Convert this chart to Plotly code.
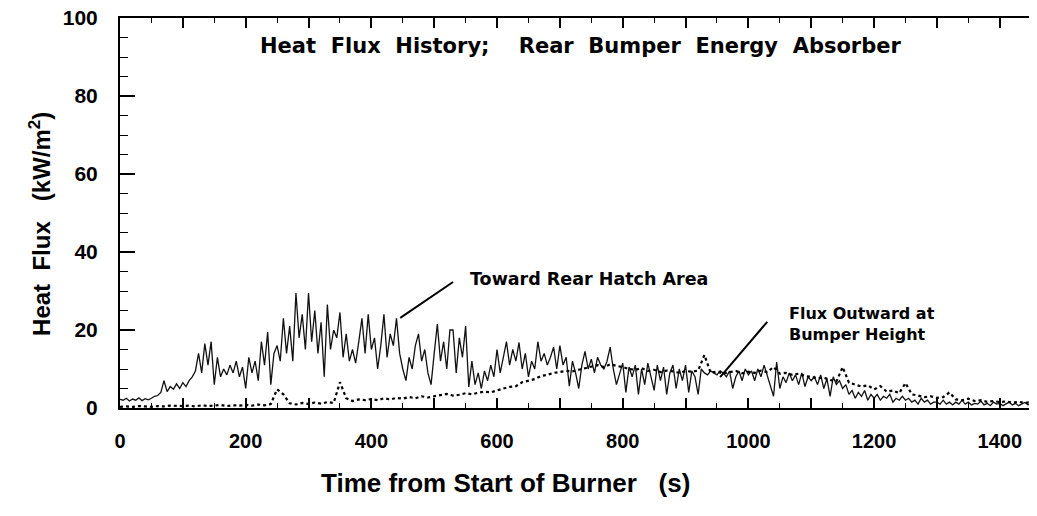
import plotly.graph_objects as go

# ---- data ----
time_solid = list(range(0, 1490, 5))
flux_rear_hatch = [
    2.2, 2.0, 2.5, 1.8, 2.3, 2.0, 2.6, 1.9, 2.4, 2.1,
    2.5, 3.0, 3.2, 4.0, 7.0, 4.2, 5.5, 4.8, 6.2, 5.0,
    6.5, 5.5, 7.0, 8.0, 9.5, 14.0, 9.0, 16.5, 11.0, 17.0,
    6.0, 13.0, 8.0, 10.0, 8.5, 11.0, 9.0, 12.0, 8.0, 10.5,
    5.0, 13.0, 9.0, 12.0, 7.0, 17.0, 11.0, 19.5, 6.0, 14.0,
    16.0, 12.0, 23.0, 14.0, 21.0, 12.0, 29.5, 18.0, 24.0, 15.0,
    29.5, 17.0, 25.0, 14.0, 22.0, 8.0, 26.5, 15.0, 20.0, 18.0,
    24.5, 13.0, 19.0, 12.0, 15.0, 11.5, 17.0, 23.0, 14.0, 24.0,
    15.0, 18.0, 10.0, 16.0, 24.0, 13.0, 19.0, 16.0, 23.0, 14.0,
    10.0, 7.0, 13.0, 10.0, 16.0, 19.0, 12.0, 15.0, 9.0, 6.0,
    14.0, 21.5, 12.0, 17.0, 10.0, 20.0, 20.0, 9.0, 18.0, 13.0,
    21.0, 5.4, 12.0, 6.0, 9.0, 5.0, 9.5, 7.0, 11.0, 8.0,
    15.0, 9.0, 13.0, 17.0, 11.0, 15.0, 12.0, 16.8, 10.0, 14.0,
    8.0, 12.0, 10.0, 17.0, 12.0, 14.0, 11.0, 13.0, 15.6, 10.0,
    16.0, 11.0, 13.0, 5.6, 12.0, 9.0, 5.0, 11.0, 14.5, 10.0,
    12.5, 9.0, 13.0, 11.0, 10.0, 12.0, 15.6, 10.0, 6.0, 9.0,
    11.5, 4.0, 10.5, 8.0, 11.0, 3.5, 10.0, 6.0, 11.5, 8.0,
    4.5, 11.0, 7.0, 10.5, 3.5, 9.0, 11.0, 5.0, 10.0, 7.0,
    11.0, 4.0, 9.5, 8.0, 3.5, 10.0, 9.0, 8.5, 9.5, 9.0,
    8.5, 9.5, 9.0, 8.0, 9.5, 5.0, 8.0, 9.5, 7.0, 10.0,
    8.5, 9.5, 7.0, 10.0, 8.0, 11.0, 8.5, 6.0, 3.0, 11.8,
    5.0, 8.0, 6.5, 9.0, 7.0, 8.5, 6.0, 9.0, 5.5, 8.0,
    7.0, 8.0, 6.0, 8.5, 5.0, 7.5, 3.0, 8.0, 6.0, 7.0,
    5.0, 6.0, 3.5, 4.5, 2.5, 4.0, 3.0, 4.5, 2.0, 3.5,
    2.5, 3.5, 2.0, 3.0, 2.5, 3.5, 1.5, 2.5, 2.0, 3.0,
    2.0, 2.5, 1.5, 2.0, 1.0, 2.5, 1.5, 2.0, 1.0, 1.5,
    1.5, 1.0, 2.0, 1.0, 1.5, 0.8, 1.5, 1.0, 2.0, 1.0,
    1.5, 0.8, 1.2, 1.0, 1.8, 0.8, 1.2, 0.6, 1.5, 1.0,
    1.2, 0.6, 1.0, 1.5, 0.8, 1.2, 0.6, 1.0, 1.4, 0.8,
    1.0, 0.6, 1.2, 0.8, 1.0, 0.5, 1.0, 0.7,
]

time_dotted = list(range(0, 1490, 10))
flux_bumper = [
    0.3, 0.4, 0.3, 0.5, 0.4, 0.3, 0.5, 0.4, 0.6, 0.5,
    0.5, 0.6, 0.4, 0.7, 0.5, 0.6, 0.8, 0.5, 0.7, 0.6,
    0.8, 0.6, 0.9, 0.7, 1.0, 4.8, 3.5, 1.2, 0.9, 1.3,
    1.0, 1.4, 1.1, 1.5, 1.3, 6.6, 2.5, 1.8, 2.2, 2.0,
    2.3, 2.0, 2.5, 2.2, 2.6, 2.4, 2.8, 2.5, 3.0, 2.7,
    3.0, 3.2, 3.6, 3.2, 3.4, 3.8, 3.5, 3.9, 4.2, 4.0,
    4.6, 5.0, 5.4, 5.6, 6.6, 7.0, 7.4, 8.2, 8.5, 9.0,
    9.2, 9.5, 9.4, 9.8, 10.2, 10.6, 11.0, 10.5, 11.2, 10.8,
    10.5, 10.0, 9.8, 10.2, 9.5, 9.8, 9.2, 9.6, 9.4, 9.0,
    9.5, 9.3, 9.6, 13.6, 9.0, 9.4, 8.8, 9.2, 9.5, 8.9,
    9.3, 9.0, 9.6, 9.2, 10.5, 8.8, 9.0, 8.5, 8.8, 8.2,
    8.0, 7.6, 7.8, 7.2, 6.8, 10.5, 6.5, 6.0, 5.5, 5.8,
    4.8, 5.6, 4.2, 4.5, 3.8, 6.4, 3.5, 3.2, 2.8, 3.0,
    2.6, 2.8, 4.0, 2.2, 2.0, 2.4, 1.8, 2.0, 1.6, 1.8,
    1.5, 1.7, 1.4, 1.6, 1.3, 1.5, 1.2, 1.4, 1.1,
]

x_tick_vals = list(range(0, 1500, 100))
x_tick_text = [str(v) if v % 200 == 0 else "" for v in x_tick_vals]
y_tick_vals = [0, 20, 40, 60, 80, 100]
y_tick_text = ["0", "20", "40", "60", "80", "100"]

FONT = "Liberation Sans, Arial, sans-serif"
WIDE = "DejaVu Sans, Liberation Sans, sans-serif"

fig = go.Figure()
fig.add_trace(go.Scatter(
    x=time_solid, y=flux_rear_hatch, mode="lines",
    line=dict(color="#111111", width=1.3), showlegend=False,
))
fig.add_trace(go.Scatter(
    x=time_dotted, y=flux_bumper, mode="lines",
    line=dict(color="#000000", width=2.2, dash="dot"), showlegend=False,
))
# dummy trace for right-hand tick stubs
fig.add_trace(go.Scatter(x=[None], y=[None], yaxis="y2", showlegend=False))

fig.update_layout(
    width=1037, height=516,
    margin=dict(l=112, r=0, t=10, b=116, autoexpand=False),
    paper_bgcolor="white", plot_bgcolor="white",
    xaxis=dict(
        range=[0, 1472], showgrid=False, zeroline=False, automargin=False,
        showline=True, linecolor="black", linewidth=2, mirror="ticks",
        ticks="inside", ticklen=10, tickwidth=1.5, tickcolor="black",
        tickmode="array", tickvals=x_tick_vals, ticktext=x_tick_text,
        minor=dict(dtick=50, tick0=0, ticks="inside", ticklen=5, tickwidth=1.2, tickcolor="black"),
        tickfont=dict(family=FONT, size=20, color="black", weight="bold"),
        ticklabelstandoff=14, ticklabeloverflow="allow",
    ),
    yaxis=dict(
        range=[0, 100], showgrid=False, zeroline=False, automargin=False,
        showline=True, linecolor="black", linewidth=2, mirror=False,
        ticks="inside", ticklen=15, tickwidth=1.5, tickcolor="black",
        tickmode="array", tickvals=y_tick_vals, ticktext=y_tick_text,
        minor=dict(dtick=5, tick0=0, ticks="inside", ticklen=8, tickwidth=1.2, tickcolor="black"),
        tickfont=dict(family=FONT, size=21, color="black", weight="bold"),
        ticklabelstandoff=16, ticklabeloverflow="allow",
    ),
    yaxis2=dict(
        range=[0, 100], overlaying="y", side="right", anchor="x", automargin=False,
        showgrid=False, zeroline=False, showline=False,
        ticks="inside", ticklen=15, tickwidth=1.5, tickcolor="black",
        tickvals=[20, 40, 60, 80], showticklabels=False,
    ),
)

fig.add_annotation(
    text="Heat  Flux  History;    Rear  Bumper  Energy  Absorber",
    xref="paper", yref="paper", x=0.498, y=0.928, xanchor="center", yanchor="middle",
    showarrow=False, font=dict(family=WIDE, size=21, color="black", weight="bold"),
)
fig.add_annotation(
    text="Heat  Flux   (kW/m<sup>2</sup>)",
    xref="paper", yref="paper", x=-0.0865, y=0.472, xanchor="center", yanchor="middle",
    textangle=-90, showarrow=False,
    font=dict(family=FONT, size=24, color="black", weight="bold"),
)
fig.add_annotation(
    text="Time from Start of Burner   (s)",
    xref="paper", yref="paper", x=0.417, y=-0.192, xanchor="center", yanchor="middle",
    showarrow=False,
    font=dict(family="Liberation Sans Narrow, Liberation Sans, sans-serif", size=26, color="black", weight="bold"),
)
fig.add_annotation(
    text="Toward Rear Hatch Area",
    xref="x", yref="y", x=554, y=33.1, xanchor="left", yanchor="middle",
    showarrow=False, font=dict(family=WIDE, size=17.5, color="black", weight="bold"),
)
fig.add_annotation(
    text="Flux Outward at<br>Bumper Height",
    xref="x", yref="y", x=1061, y=21.5, xanchor="left", yanchor="middle", align="left",
    showarrow=False, font=dict(family=WIDE, size=16, color="black", weight="bold"),
)
fig.add_shape(type="line", xref="x", yref="y", x0=446, y0=23.1, x1=530, y1=32.3,
              line=dict(color="black", width=2))
fig.add_shape(type="line", xref="x", yref="y", x0=955, y0=7.9, x1=1030, y1=22.1,
              line=dict(color="black", width=2))

fig.write_html("out.html")
